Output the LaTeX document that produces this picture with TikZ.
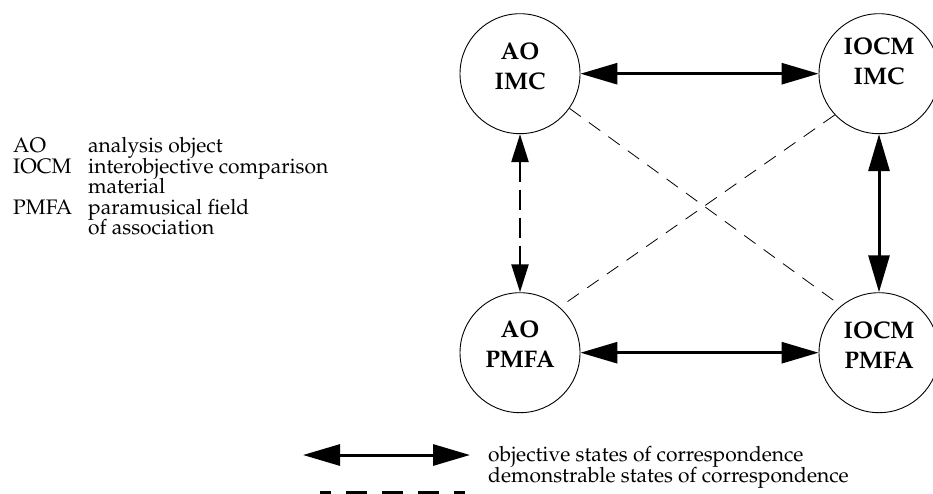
\documentclass[tikz,border=0pt]{standalone}
\usepackage[T1]{fontenc}
\usepackage{mathpazo}
\usetikzlibrary{arrows.meta}
\begin{document}
\begin{tikzpicture}[x=1pt,y=-1pt,
  circ/.style={circle,draw,line width=0.9pt,minimum size=120pt,inner sep=0pt},
  clabel/.style={align=center,font=\fontsize{24}{30}\selectfont\bfseries,inner sep=0pt},
  legtext/.style={anchor=base west,inner sep=0pt,font=\fontsize{21}{21}\selectfont},
  solidarrow/.style={line width=3pt,{Triangle[length=37pt,width=21pt]}-{Triangle[length=37pt,width=21pt]}},
  dasharrow/.style={line width=2.5pt,dash pattern=on 20pt off 8pt,{Triangle[length=28pt,width=17pt]}-{Triangle[length=28pt,width=17pt]}},
  thindash/.style={line width=0.8pt,dash pattern=on 14pt off 10pt}]
\useasboundingbox (0,0) rectangle (933,493);

% circles
\node[circ] (aoimc) at (520,73.7) {};
\node[circ] (iocmimc) at (879,73.7) {};
\node[circ] (aopmfa) at (520,352.7) {};
\node[circ] (iocmpmfa) at (879,352.7) {};

% circle labels
\node[clabel] (laoimc) at (520,66.7) {AO\\IMC};
\node[clabel] (liocmimc) at (879,61.7) {IOCM\\IMC};
\node[clabel] (laopmfa) at (520,344.7) {AO\\PMFA};
\node[clabel] (liocmpmfa) at (879,345) {IOCM\\PMFA};

% connectors
\draw[solidarrow] (aoimc) -- (iocmimc);
\draw[solidarrow] (aopmfa) -- (iocmpmfa);
\draw[solidarrow] (iocmimc) -- (iocmpmfa);
\draw[dasharrow] (aoimc) -- (aopmfa);
\draw[thindash] (aoimc.-35.6) -- (iocmpmfa.129.9);
\draw[thindash] (iocmimc.223.1) -- (aopmfa.49);

% abbreviation legend
\node[legtext] (k1) at (13,152.5) {AO};
\node[legtext] (v1) at (88,152.5) {analysis object};
\node[legtext] (k2) at (13,173) {IOCM};
\node[legtext] (v2) at (88,173) {interobjective comparison};
\node[legtext] (v3) at (88,193.5) {material};
\node[legtext] (k4) at (13,214) {PMFA};
\node[legtext] (v4) at (88,214) {paramusical field};
\node[legtext] (v5) at (88,234.5) {of association};

% line legend
\coordinate (la) at (303,455);
\coordinate (lb) at (470,455);
\draw[solidarrow] (la) -- (lb);
\coordinate (lc) at (320,492);
\coordinate (ld) at (465,492);
\draw[line width=3pt,dash pattern=on 21pt off 15pt,dash phase=10pt] (lc) -- (ld);
\node[legtext] (t1) at (488,461) {objective states of correspondence};
\node[legtext] (t2) at (488,482) {demonstrable states of correspondence};
\end{tikzpicture}
\end{document}
